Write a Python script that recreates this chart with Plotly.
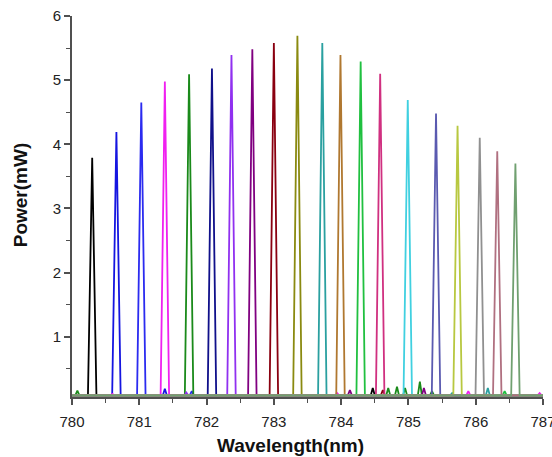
import plotly.graph_objects as go

# Peak centre wavelengths (nm) and peak powers (mW), one series per laser line
centers = [780.30, 780.66, 781.03, 781.38, 781.74, 782.08, 782.37, 782.68, 783.00, 783.35,
           783.72, 783.99, 784.29, 784.58, 784.99, 785.41, 785.73, 786.06, 786.32, 786.59]
peaks = [3.79, 4.19, 4.65, 4.98, 5.09, 5.18, 5.39, 5.48, 5.58, 5.69,
         5.58, 5.39, 5.29, 5.10, 4.69, 4.48, 4.29, 4.10, 3.89, 3.70]
colors = ["#000000", "#1515e0", "#2b2bf0", "#f020f0", "#1a8a1a", "#10108a", "#9030f0", "#800080",
          "#8a0010", "#8a8a10", "#2aa0a0", "#b07830", "#20c040", "#d03080", "#40d0e0", "#5a5ab0",
          "#b8c840", "#909090", "#b07080", "#70a070"]

baseline = 0.085
# small noise bumps on the baseline: (series index, wavelength, power)
bump_series = [4, 3, 1, 2, 6, 3, 7, 0, 8, 4, 4, 4, 4, 7, 4, 10, 3, 10, 12, 3]
bump_wl = [780.08, 780.60, 781.38, 781.78, 781.70, 783.94, 784.13, 784.47, 784.62, 784.70,
           784.83, 784.95, 785.17, 785.23, 785.35, 785.65, 785.89, 786.18, 786.43, 786.95]
bump_pw = [0.16, 0.11, 0.19, 0.15, 0.13, 0.12, 0.17, 0.20, 0.17, 0.20,
           0.22, 0.20, 0.30, 0.20, 0.15, 0.12, 0.15, 0.20, 0.15, 0.12]

x_title = "Wavelength(nm)"
y_title = "Power(mW)"

half_base = 0.063

fig = go.Figure()
for i, (c, p, col) in enumerate(zip(centers, peaks, colors)):
    pts = [(780.0, baseline), (c - half_base, baseline), (c, p), (c + half_base, baseline), (787.0, baseline)]
    for s, w, h in zip(bump_series, bump_wl, bump_pw):
        if s == i:
            pts += [(w - 0.03, baseline), (w, h), (w + 0.03, baseline)]
    pts.sort()
    fig.add_trace(go.Scatter(x=[q[0] for q in pts], y=[q[1] for q in pts], mode="lines",
                             line=dict(color=col, width=1.8), showlegend=False, hoverinfo="skip"))

axis_col = "#505050"
title_font = dict(family="Liberation Sans, Arial, sans-serif", size=19, color="#111111")
fig.update_layout(
    width=552, height=457,
    margin=dict(l=72, r=9, t=16, b=60),
    paper_bgcolor="white", plot_bgcolor="white",
    font=dict(family="Liberation Sans, Arial, sans-serif", color="#222222"),
    xaxis=dict(range=[780, 787], tickmode="linear", tick0=780, dtick=1, automargin=False,
               ticklabeloverflow="allow", ticklabelstandoff=4,
               ticks="outside", ticklen=6, tickwidth=1.5, tickcolor=axis_col,
               minor=dict(dtick=0.5, ticks="outside", ticklen=4, tickwidth=1.2, tickcolor=axis_col),
               showline=True, linecolor=axis_col, linewidth=2, showgrid=False, zeroline=False,
               tickfont=dict(size=15)),
    yaxis=dict(range=[0.06, 6], tickmode="linear", tick0=0, dtick=1, automargin=False,
               ticks="outside", ticklen=6, tickwidth=1.5, tickcolor=axis_col,
               minor=dict(dtick=0.5, ticks="outside", ticklen=4, tickwidth=1.2, tickcolor=axis_col),
               showline=True, linecolor=axis_col, linewidth=2, showgrid=False, zeroline=False,
               tickfont=dict(size=15)),
    annotations=[
        dict(text="<b>" + x_title + "</b>", xref="paper", yref="paper", x=0.463, y=-0.126,
             xanchor="center", yanchor="middle", showarrow=False, font=title_font),
        dict(text="<b>" + y_title + "</b>", xref="paper", yref="paper", x=-0.110, y=0.530,
             xanchor="center", yanchor="middle", showarrow=False, textangle=-90, font=title_font),
    ],
)
fig.write_html("out.html", config={"displayModeBar": False},
               post_script="document.body.style.margin='0';document.body.style.overflow='hidden';")
